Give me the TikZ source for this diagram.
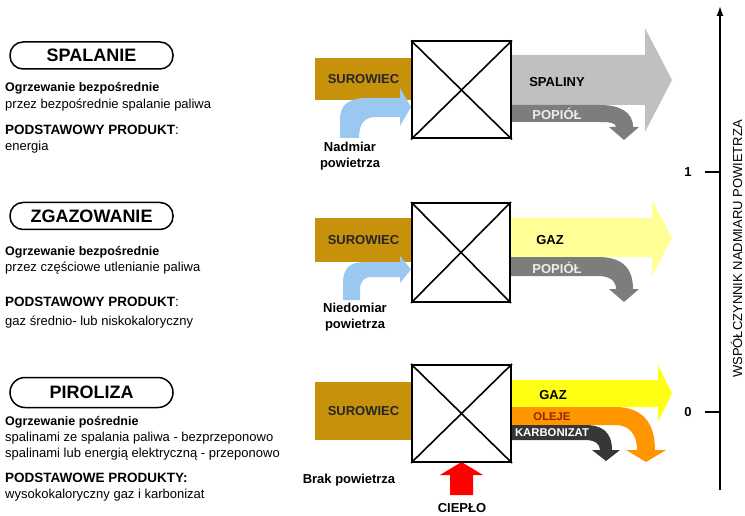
\documentclass[tikz,border=0pt]{standalone}
\usepackage{fontspec}
\setmainfont{Liberation Sans}
\usetikzlibrary{arrows.meta}
\newcommand{\myfs}[1]{\fontsize{#1}{#1}\selectfont}
\definecolor{brownc}{RGB}{200,145,12}
\definecolor{bluec}{RGB}{155,200,240}
\definecolor{spalc}{RGB}{192,192,192}
\definecolor{ashc}{RGB}{125,125,125}
\definecolor{ylwa}{RGB}{255,255,150}
\definecolor{ylwb}{RGB}{255,255,20}
\definecolor{orc}{RGB}{255,150,0}
\definecolor{karc}{RGB}{55,55,55}
\definecolor{olejt}{RGB}{140,40,0}
\begin{document}
\begin{tikzpicture}[x=1pt,y=-1pt,
  txt/.style={anchor=west,inner sep=0pt,font=\myfs{13}},
  txtb/.style={anchor=west,inner sep=0pt,font=\myfs{12.5}\bfseries},
  head/.style={anchor=west,inner sep=0pt,font=\myfs{13.5}\bfseries},
  pill/.style={draw,line width=1.5pt,rounded corners=13pt,minimum width=163pt,minimum height=27pt,inner sep=0pt,font=\myfs{18}\bfseries},
  reactor/.style={draw,line width=2pt,fill=white,minimum width=99pt,minimum height=97pt,inner sep=0pt},
  diag/.style={line width=1.6pt},
  lbl/.style={inner sep=0pt,font=\myfs{13}\bfseries},
  slbl/.style={inner sep=0pt,font=\myfs{11.3}\bfseries},
  feed/.style={fill=brownc,draw=none,inner sep=0pt,minimum width=97pt,font=\myfs{13}\bfseries,text=black!85}
]
\useasboundingbox (0,0) rectangle (745,516);

% ---------- left texts ----------
\node[pill] (p1) at (91.5,55.5) {SPALANIE};
\node[txtb] (t11) at (5,88) {Ogrzewanie bezpośrednie};
\node[txt]  (t12) at (5,105) {przez bezpośrednie spalanie paliwa};
\node[head] (t13) at (5,130) {PODSTAWOWY PRODUKT\textmd{:}};
\node[txt]  (t14) at (5,147) {energia};

\node[pill] (p2) at (91.5,216) {ZGAZOWANIE};
\node[txtb] (t21) at (5,252) {Ogrzewanie bezpośrednie};
\node[txt]  (t22) at (5,268) {przez częściowe utlenianie paliwa};
\node[head] (t23) at (5,302) {PODSTAWOWY PRODUKT\textmd{:}};
\node[txt]  (t24) at (5,322) {gaz średnio- lub niskokaloryczny};

\node[pill,minimum height=30pt,rounded corners=15pt] (p3) at (91.5,392.5) {PIROLIZA};
\node[txtb] (t31) at (5,422) {Ogrzewanie pośrednie};
\node[txt]  (t32) at (5,438) {spalinami ze spalania paliwa - bezprzeponowo};
\node[txt]  (t33) at (5,454) {spalinami lub energią elektryczną - przeponowo};
\node[head] (t34) at (5,478) {PODSTAWOWE PRODUKTY:};
\node[txt]  (t35) at (5,495) {wysokokaloryczny gaz i karbonizat};

% ---------- row 1 : SPALANIE ----------
\node[feed,minimum height=42pt] (s1) at (363.5,79) {SUROWIEC};
\fill[bluec] (340,138) -- (340,120) .. controls (340,104) and (349,98) .. (368,98)
  -- (400,98) -- (400,88) -- (411,107) -- (400,126) -- (400,117) -- (376,117)
  .. controls (365,117) and (359,123) .. (359,138) -- cycle;
\fill[spalc] (511,55) -- (645,55) -- (645,28) -- (672,80) -- (645,132) -- (645,105) -- (511,105) -- cycle;
\fill[ashc] (511,105) -- (600,105) .. controls (620,105) and (633,112) .. (633,127)
  -- (639,127) -- (624,140) -- (609,127) -- (616,127)
  .. controls (616,123) and (610,122) .. (600,122) -- (511,122) -- cycle;
\node[reactor] (r1) at (461.5,90) {};
\draw[diag] (r1.north west) -- (r1.south east) (r1.north east) -- (r1.south west);
\node[lbl] (o1) at (557,82) {SPALINY};
\node[lbl,text=white!93!black] (a1) at (557,113.5) {POPIÓŁ};
\node[lbl,align=center] (n1) at (350,156) {Nadmiar\\[3pt]powietrza};

% ---------- row 2 : ZGAZOWANIE ----------
\node[feed,minimum height=44pt] (s2) at (363.5,240) {SUROWIEC};
\fill[bluec] (343,300) -- (343,283) .. controls (343,268) and (350,262) .. (365,262)
  -- (400,262) -- (400,256) -- (411,269.5) -- (400,283) -- (400,277) -- (372,277)
  .. controls (364,277) and (360,281) .. (360,290) -- (360,300) -- cycle;
\fill[ylwa] (510,218) -- (652,218) -- (652,200) -- (672,238) -- (652,276) -- (652,257) -- (510,257) -- cycle;
\fill[ashc] (510,257) -- (598,257) .. controls (620,257) and (633,266) .. (633,289)
  -- (639,289) -- (624,302) -- (609,289) -- (616,289)
  .. controls (616,281) and (610,276) .. (598,276) -- (510,276) -- cycle;
\node[reactor,minimum width=98pt,minimum height=99pt] (r2) at (461,252.5) {};
\draw[diag] (r2.north west) -- (r2.south east) (r2.north east) -- (r2.south west);
\node[lbl] (o2) at (550,240) {GAZ};
\node[lbl,text=white!93!black] (a2) at (557,268) {POPIÓŁ};
\node[lbl,align=center] (n2) at (355,317.5) {Niedomiar\\[3pt]powietrza};

% ---------- row 3 : PIROLIZA ----------
\node[feed,minimum height=58pt] (s3) at (363.5,411) {SUROWIEC};
\fill[ylwb] (511,380) -- (658,380) -- (658,365) -- (672,393.5) -- (658,422) -- (658,407) -- (511,407) -- cycle;
\fill[orc] (511,407) -- (615,407) .. controls (640,407) and (655,420) .. (655,450)
  -- (666,450) -- (646,462) -- (626,450) -- (637,450)
  .. controls (637,435) and (630,425) .. (615,425) -- (511,425) -- cycle;
\fill[karc] (511,425) -- (585,425) .. controls (602,425) and (612,432) .. (612,450)
  -- (620,450) -- (606,461) -- (592,450) -- (600,450)
  .. controls (600,444) and (595,440) .. (585,440) -- (511,440) -- cycle;
\fill[red] (450,495) -- (450,475) -- (440,475) -- (461.5,462) -- (483,475) -- (473,475) -- (473,495) -- cycle;
\node[reactor,minimum height=97pt] (r3) at (461.5,413.5) {};
\draw[diag] (r3.north west) -- (r3.south east) (r3.north east) -- (r3.south west);
\node[lbl] (o3) at (553,395) {GAZ};
\node[slbl,text=olejt] (l3) at (552,417) {OLEJE};
\node[slbl,text=white] (k3) at (552,433) {KARBONIZAT};
\node[lbl] (c3) at (462,508.5) {CIEPŁO};
\node[lbl] (b3) at (349,480) {Brak powietrza};

% ---------- axis ----------
\coordinate (axb) at (720,490);
\coordinate (axt) at (720,6);
\draw[line width=1.6pt,-{Latex[length=10pt,width=7pt]}] (axb) -- (axt);
\coordinate (tk1) at (720,172);
\coordinate (tk0) at (720,412);
\draw[line width=1.6pt] (tk1) -- ++(-15,0);
\draw[line width=1.6pt] (tk0) -- ++(-15,0);
\node[lbl] (v1) at (688,172) {1};
\node[lbl] (v0) at (688,412) {0};
\node[inner sep=0pt,font=\myfs{13},rotate=90] (axl) at (736.5,249) {WSPÓŁCZYNNIK NADMIARU POWIETRZA};
\end{tikzpicture}
\end{document}
